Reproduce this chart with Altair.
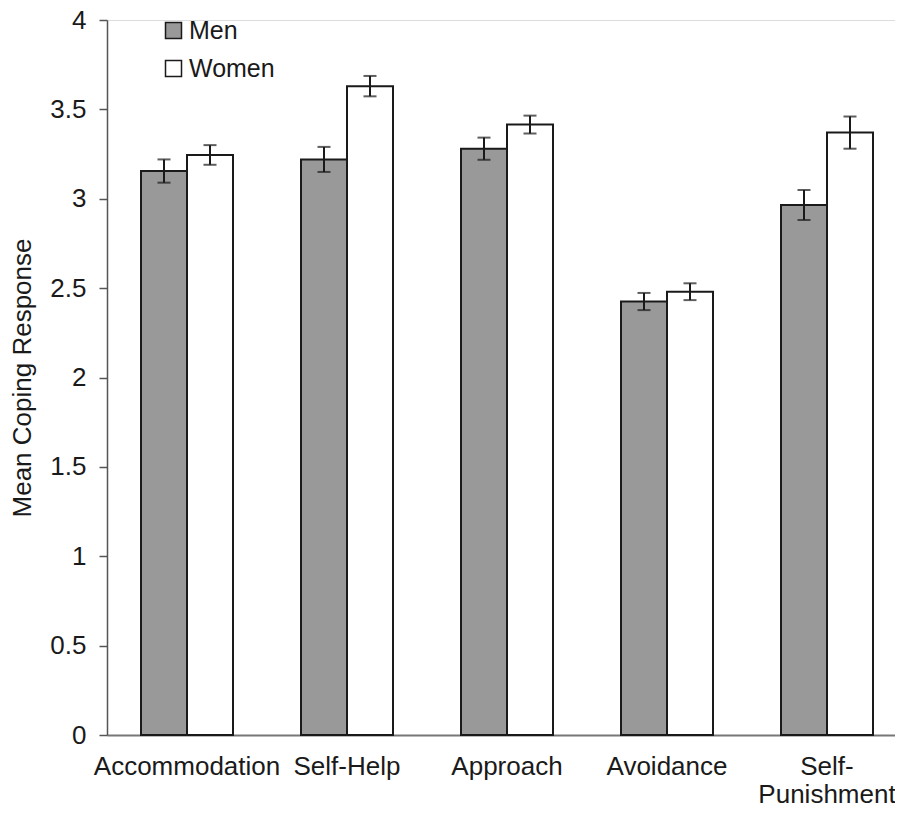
import altair as alt
import pandas as pd

categories = ["Accommodation", "Self-Help", "Approach", "Avoidance", "Self-Punishment"]
men = [3.155, 3.22, 3.28, 2.425, 2.965]
women = [3.245, 3.63, 3.415, 2.48, 3.37]
men_err = [0.065, 0.07, 0.062, 0.048, 0.084]
women_err = [0.055, 0.057, 0.05, 0.047, 0.09]
groups = ["Men", "Women"]
y_ticks = [0, 0.5, 1, 1.5, 2, 2.5, 3, 3.5, 4]

rows = []
for i, c in enumerate(categories):
    rows.append({"category": c, "sex": "Men", "value": men[i],
                 "lo": men[i] - men_err[i], "hi": men[i] + men_err[i]})
    rows.append({"category": c, "sex": "Women", "value": women[i],
                 "lo": women[i] - women_err[i], "hi": women[i] + women_err[i]})
df = pd.DataFrame(rows)

FONT = "Liberation Sans"
INK = "#1a1a1a"

x = alt.X(
    "category:N", sort=categories,
    scale=alt.Scale(range=[0, 800], paddingInner=0.425, paddingOuter=0.2125),
    axis=alt.Axis(
        title=None, labelAngle=0, labelFontSize=26, ticks=False,
        domainColor="#777777", domainWidth=2, labelPadding=18,
        labelColor=INK, labelFont=FONT, labelLineHeight=28, labelLimit=400,
        labelExpr="datum.value == 'Self-Punishment' ? ['Self-', 'Punishment'] : datum.value",
    ),
)
xoff = alt.XOffset("sex:N", sort=groups, scale=alt.Scale(paddingInner=0, paddingOuter=0))
yscale = alt.Scale(domain=[0, 4], nice=False)

bars = alt.Chart(df).mark_bar(stroke=INK, strokeWidth=2).encode(
    x=x,
    xOffset=xoff,
    y=alt.Y(
        "value:Q", scale=yscale,
        axis=alt.Axis(
            values=y_ticks, format="~g", grid=False, tickSize=8,
            tickColor="#555555", tickWidth=1.5, domainColor="#555555",
            domainWidth=1.5, labelPadding=13, labelFontSize=26,
            labelColor=INK, labelFont=FONT,
            title="Mean Coping Response", titleFontSize=26,
            titleFontWeight="normal", titleFont=FONT, titleColor=INK,
            titlePadding=14,
        ),
    ),
    color=alt.Color(
        "sex:N",
        scale=alt.Scale(domain=groups, range=["#999999", "#ffffff"]),
        legend=alt.Legend(
            title=None, orient="none", legendX=54, legendY=-2, padding=0,
            symbolType="square", symbolSize=256, symbolStrokeColor=INK,
            symbolStrokeWidth=1.5, labelFontSize=25, labelFont=FONT,
            labelColor=INK, rowPadding=12, labelOffset=3,
        ),
    ),
)

rules = alt.Chart(df).mark_rule(color=INK, strokeWidth=2).encode(
    x=x, xOffset=xoff, y=alt.Y("lo:Q", scale=yscale), y2="hi:Q"
)
cap_lo = alt.Chart(df).mark_tick(color=INK, size=13, thickness=2).encode(
    x=x, xOffset=xoff, y=alt.Y("lo:Q", scale=yscale)
)
cap_hi = alt.Chart(df).mark_tick(color=INK, size=13, thickness=2).encode(
    x=x, xOffset=xoff, y=alt.Y("hi:Q", scale=yscale)
)

chart = alt.layer(bars, rules, cap_lo, cap_hi).properties(
    width=788, height=715,
    autosize=alt.AutoSizeParams(type="none"),
    padding={"left": 99, "top": 12, "right": 0, "bottom": 72},
).configure_view(stroke=None).configure(background="white")

chart.save("out.html", embed_options={"renderer": "svg", "actions": False})
